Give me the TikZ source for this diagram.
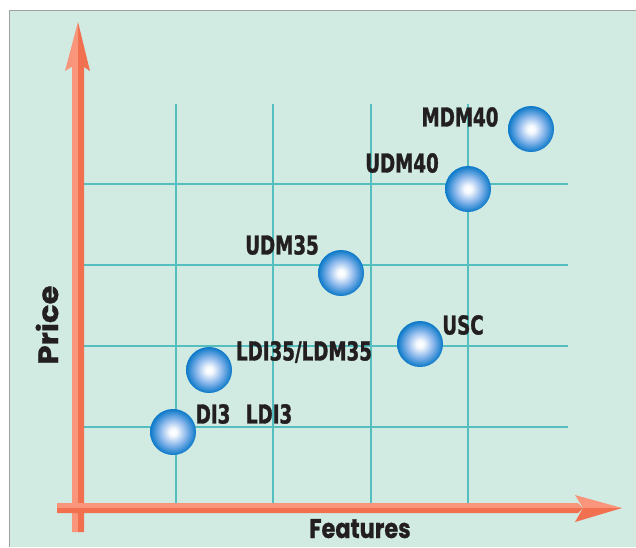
\documentclass[tikz,border=0pt]{standalone}
\usepackage{fontspec}
\newfontfamily\labfont{DejaVu Sans Condensed}[FakeStretch=0.78, FakeBold=1.2]
\newfontfamily\axfont{Poppins}[FakeStretch=0.83, FakeBold=0.8]
\newfontfamily\pricefont{Poppins}[FakeStretch=1.1, FakeBold=0.8]
\definecolor{bg}{HTML}{D1EBE3}
\definecolor{frame}{HTML}{A0A0A0}
\definecolor{gridc}{HTML}{55BFBF}
\definecolor{axlight}{HTML}{F8957A}
\definecolor{axdark}{HTML}{F07050}
\definecolor{ballblue}{HTML}{0A78C8}
\definecolor{ballmid}{HTML}{8CB8EC}
\definecolor{txt}{HTML}{231F20}
\pgfdeclareradialshading{ballshade}{\pgfpoint{0bp}{0bp}}{%
  color(0bp)=(white); color(4bp)=(white!92!ballmid); color(14bp)=(ballmid); color(25bp)=(ballblue); color(50bp)=(ballblue)}
\tikzset{
  ball/.style={circle, minimum size=46pt, inner sep=0pt, shading=ballshade},
  lab/.style={text=txt, inner sep=0pt, font=\labfont\bfseries\fontsize{26}{30}\selectfont},
  axlab/.style={text=txt, inner sep=0pt, font=\axfont\bfseries\fontsize{27}{30}\selectfont},
  gridline/.style={draw=gridc, line width=1.6pt},
}
\begin{document}
\begin{tikzpicture}[x=1pt, y=-1pt]
\useasboundingbox (0,0) rectangle (636,547);
\fill[white] (0,0) rectangle (636,547);
\fill[bg] (9.5,10.5) rectangle (636,547);
\draw[frame, line width=1.5pt] (9.5,547) -- (9.5,10.5) -- (636,10.5);
% grid
\foreach \x in {176,273,371,468} \draw[gridline] (\x,104) -- (\x,508);
\foreach \y in {184,265,346,427} \draw[gridline] (78,\y) -- (568,\y);
% vertical axis
\fill[axlight] (72,532) -- (72,66) -- (78,63) -- (78,532) -- cycle;
\fill[axdark] (78,532) -- (78,63) -- (84,66) -- (84,532) -- cycle;
\fill[axlight] (78,22) -- (65,71) -- (78,63) -- cycle;
\fill[axdark] (78,22) -- (78,63) -- (90,71) -- cycle;
% horizontal axis
\fill[axlight] (57,503) -- (578,503) -- (583,508) -- (57,508) -- cycle;
\fill[axdark] (57,508) -- (583,508) -- (578,513) -- (57,513) -- cycle;
\fill[axlight] (622,508) -- (575,495) -- (583,508) -- cycle;
\fill[axdark] (622,508) -- (583,508) -- (575,522) -- cycle;
% balls
\node[ball] (di3) at (173,432) {};
\node[ball] (ldi35) at (209,370) {};
\node[ball] (udm35) at (341,273) {};
\node[ball] (usc) at (420,344) {};
\node[ball] (udm40) at (468,189) {};
\node[ball] (mdm40) at (531,129) {};
% labels
\node[lab] (lmdm40) at (460,117) {MDM40};
\node[lab] (ludm40) at (402,163) {UDM40};
\node[lab] (ludm35) at (282,245) {UDM35};
\node[lab] (lusc) at (463,325) {USC};
\node[lab] (lldi35) at (304,352) {LDI35/LDM35};
\node[lab] (ldi3) at (244,414) {DI3\hspace{0.6em}LDI3};
\node[axlab, anchor=base, text depth=0pt] (features) at (360,538) {Features};
\node[axlab, font=\pricefont\bfseries\fontsize{28}{32}\selectfont, rotate=90] (price) at (47,325) {Price};
\end{tikzpicture}
\end{document}
